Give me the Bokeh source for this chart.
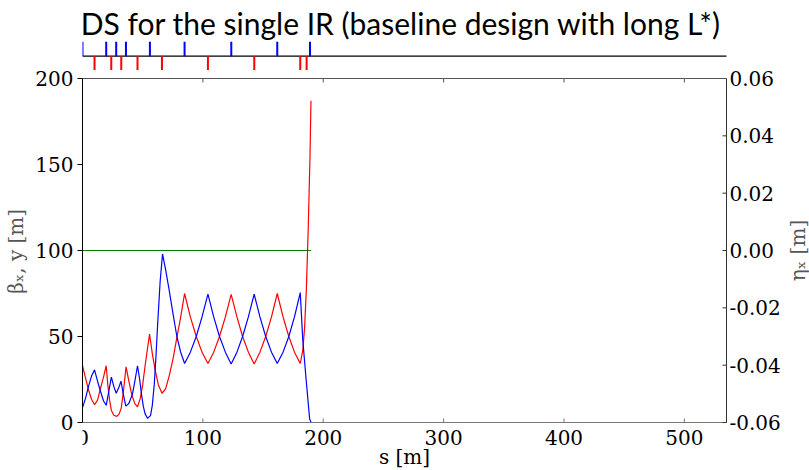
import math
from bokeh.plotting import figure
from bokeh.models import Range1d, LinearAxis, FixedTicker
from bokeh.core.properties import value
from bokeh.embed import file_html
from bokeh.resources import INLINE

# ---------------- data ----------------
title_text = ["DS for the single IR (baseline design with long L*)"]

s_bx = [0, 2.5, 5, 7.5, 10, 12.5, 15, 17.5, 19.7, 21, 22.5, 24, 26, 28.5, 30.5, 32.2,
        34, 36.2, 38.5, 41, 43.5, 45.7, 48, 50, 52, 54, 55.7, 58, 60.5, 63, 66, 69, 72,
        75.5, 78.4, 81.5, 84.8, 89.6, 94.5, 99.3, 104.2, 109, 113.8, 118.7, 123.5, 128.3,
        133, 137.8, 142.6, 147.4, 152.2, 157, 161.8, 166.6, 171.4, 176.1, 180.9, 183,
        184.5, 186, 187.5, 189, 189.8]
beta_x = [33, 26, 19, 13.5, 10.3, 13, 20, 26.5, 33, 22, 13, 7, 4.2, 3.6, 5, 8.5,
          18, 32.4, 24, 16, 11, 9.1, 14, 22, 33, 43, 51.4, 40, 30, 22, 17, 19.5, 27,
          38, 49.5, 61, 75, 61.4, 50, 40.9, 34.3, 40.9, 50, 61.4, 74.5, 61.4,
          50, 40.9, 34, 40.9, 50, 61.4, 75, 61.4, 50, 40.9, 34.3, 42,
          55, 78, 112, 155, 187]

s_by = [0, 2.5, 5, 7.5, 10, 12.5, 15, 17.5, 19.7, 21.8, 24, 26, 28, 30, 32, 34, 36,
        38.5, 41.5, 43.5, 45.7, 47.5, 49, 50.5, 52, 54, 56.5, 58, 59.6, 61, 62.5, 64.5,
        66.5, 69, 72, 75, 78.4, 81.5, 84.8, 89.6, 94.5, 99.3, 104.2, 109, 113.8, 118.7,
        123.5, 128.3, 133, 137.8, 142.6, 147.4, 152.2, 157, 161.8, 166.6, 171.4, 176.1,
        180.9, 183, 185.9, 188.7, 189.8]
beta_y = [8.7, 14, 21, 27, 30.6, 24, 18, 12.5, 10, 18, 26.4, 21, 17, 20, 24, 16, 9.5,
          11, 16.5, 24, 33, 25, 16.5, 9.5, 5, 2.5, 4, 10, 22, 38, 58, 82,
          98, 89, 77, 64, 50, 41, 34.3, 40.9, 50, 61.4, 74.6, 61.4, 50, 40.9,
          34, 40.9, 50, 61.4, 74.6, 61.4, 50, 40.9, 34.3, 40.9, 50, 61.4,
          75.5, 48, 24, 2, 0.3]

s_eta = [0.0, 190.0]
eta_x = [0.0, 0.0]

# lattice elements (top strip)
quad_blue_s = [0, 19.7, 28.0, 36.1, 56.0, 84.8, 123.6, 161.8, 189.0]
quad_red_s = [10.0, 23.9, 32.2, 45.7, 66.0, 104.2, 142.7, 180.9, 186.2]

s_ticks = [0, 100, 200, 300, 400, 500]
s_labels = [str(t) for t in s_ticks]
s_title = ["s [m]"]
beta_ticks = [0, 50, 100, 150, 200]
eta_ticks = [-0.06, -0.04, -0.02, 0.0, 0.02, 0.04, 0.06]
eta_labels = ["%.2f" % t for t in eta_ticks]
eta_title = ["ηₓ [m]"]

S_MAX = 535
BETA_MAX = 200
ETA_MIN, ETA_MAX = -0.06, 0.06

# ---------------- layout ----------------
W, H = 809, 470
FRAME_L, AXIS_R = 82, 726   # canvas px of s=0 and s=S_MAX
AXIS_B = 422                # canvas px where beta = 0
BETA_TOP_PX = 78            # canvas px where beta = 200
px_per_unit = (AXIS_B - BETA_TOP_PX) / BETA_MAX
px_per_m = (AXIS_R - FRAME_L) / S_MAX


def ypx(py):
    """canvas pixel row -> beta units"""
    return (AXIS_B - py) / px_per_unit


def xpx(px):
    """canvas pixel column -> s units"""
    return (px - FRAME_L) / px_per_m


def eta_of(beta):
    return ETA_MIN + (ETA_MAX - ETA_MIN) * beta / BETA_MAX


# the frame covers the whole canvas right of the left axis
x_end = xpx(W)
y_start, y_end = ypx(H), ypx(0)

LAT_Y = ypx(55.7)
BAR_UP = (55.7 - 41.3) / px_per_unit
BAR_DN = (69.5 - 55.7) / px_per_unit
TICK_Y = 4 / px_per_unit
R_TICK = 4 / px_per_m
TITLE_X, TITLE_Y = xpx(400.5), ypx(22)
R_LABEL_X, R_TITLE_X = xpx(729), xpx(797)
B_LABEL_Y, B_TITLE_Y, B_TITLE_X = ypx(437), ypx(456), xpx(404)

p = figure(width=W, height=H, output_backend="svg", toolbar_location=None,
           x_range=Range1d(0, x_end), y_range=Range1d(y_start, y_end),
           x_axis_location=None, y_axis_location=None,
           min_border_left=FRAME_L, min_border_right=0, min_border_top=0,
           min_border_bottom=0)
p.extra_y_ranges = {"eta": Range1d(eta_of(y_start), eta_of(y_end))}
p.outline_line_color = None
p.xgrid.visible = False
p.ygrid.visible = False
p.background_fill_color = "white"
p.border_fill_color = "white"

TICK_FONT = "DejaVu Serif"

# left axis (nbsp padding centres its title on the 0..200 span)
left = LinearAxis(bounds=(0, BETA_MAX), ticker=FixedTicker(ticks=beta_ticks),
                  axis_label="βₓ, y [m]" + "\u00a0" * 5)
left.major_label_text_font = TICK_FONT
left.major_label_text_font_size = "20px"
left.major_label_text_color = "black"
left.axis_label_text_font = TICK_FONT
left.axis_label_text_font_size = "20px"
left.axis_label_text_font_style = "normal"
left.minor_tick_line_color = None
left.axis_line_color = "black"
left.major_tick_out = 5
left.major_tick_in = 0
left.major_label_standoff = 4
left.axis_label_standoff = 4
left.axis_label_text_color = "#555555"
p.add_layout(left, "left")

# bottom (s) axis drawn with glyphs
p.segment(x0=[0], y0=[0], x1=[S_MAX], y1=[0], line_color="#777777", line_width=1)
p.segment(x0=s_ticks, y0=[0] * len(s_ticks), x1=s_ticks, y1=[TICK_Y] * len(s_ticks),
          line_color="#777777", line_width=1)
p.text(x=s_ticks, y=[B_LABEL_Y] * len(s_ticks), text=s_labels, text_align="center",
       text_baseline="middle", text_font=value(TICK_FONT), text_font_size="20px",
       text_color="black")
p.text(x=[B_TITLE_X], y=[B_TITLE_Y], text=s_title, text_align="center",
       text_baseline="middle", text_font=value(TICK_FONT), text_font_size="20px",
       text_color="black")

# right (eta) axis drawn with glyphs on the eta range
p.segment(x0=[S_MAX], y0=[ETA_MIN], x1=[S_MAX], y1=[ETA_MAX], y_range_name="eta",
          line_color="#333333", line_width=1)
p.segment(x0=[S_MAX] * len(eta_ticks), y0=eta_ticks, x1=[S_MAX - R_TICK] * len(eta_ticks),
          y1=eta_ticks, y_range_name="eta", line_color="#333333", line_width=1)
p.text(x=[R_LABEL_X] * len(eta_ticks), y=eta_ticks, text=eta_labels, y_range_name="eta",
       text_align="left", text_baseline="middle", text_font=value(TICK_FONT),
       text_font_size="20px", text_color="black")
p.text(x=[R_TITLE_X], y=[(ETA_MIN + ETA_MAX) / 2], text=eta_title, y_range_name="eta",
       angle=math.pi / 2, text_align="center", text_baseline="middle",
       text_font=value(TICK_FONT), text_font_size="20px", text_color="#555555")

# title
p.text(x=[TITLE_X], y=[TITLE_Y], text=title_text, text_align="center",
       text_baseline="alphabetic", text_font=value("Lato"), text_font_size="30px",
       text_color="black")

# top frame line with inward ticks
p.segment(x0=[0], y0=[BETA_MAX], x1=[S_MAX], y1=[BETA_MAX], line_color="#555555", line_width=1)
p.segment(x0=s_ticks[1:], y0=[BETA_MAX] * 5, x1=s_ticks[1:], y1=[BETA_MAX - TICK_Y] * 5,
          line_color="#555555", line_width=1)

# lattice strip
p.segment(x0=[0], y0=[LAT_Y], x1=[S_MAX], y1=[LAT_Y], line_color="black", line_width=1.3)
p.segment(x0=quad_blue_s, y0=[LAT_Y] * len(quad_blue_s), x1=quad_blue_s,
          y1=[LAT_Y + BAR_UP] * len(quad_blue_s), line_color="blue", line_width=2)
p.segment(x0=quad_red_s, y0=[LAT_Y] * len(quad_red_s), x1=quad_red_s,
          y1=[LAT_Y - BAR_DN] * len(quad_red_s), line_color="red", line_width=2)

# optics curves
p.line(s_eta, eta_x, y_range_name="eta", line_color="green", line_width=1.2)
p.line(s_bx, beta_x, line_color="red", line_width=1.2)
p.line(s_by, beta_y, line_color="blue", line_width=1.2)

open("out.html", "w").write(file_html(p, INLINE))
